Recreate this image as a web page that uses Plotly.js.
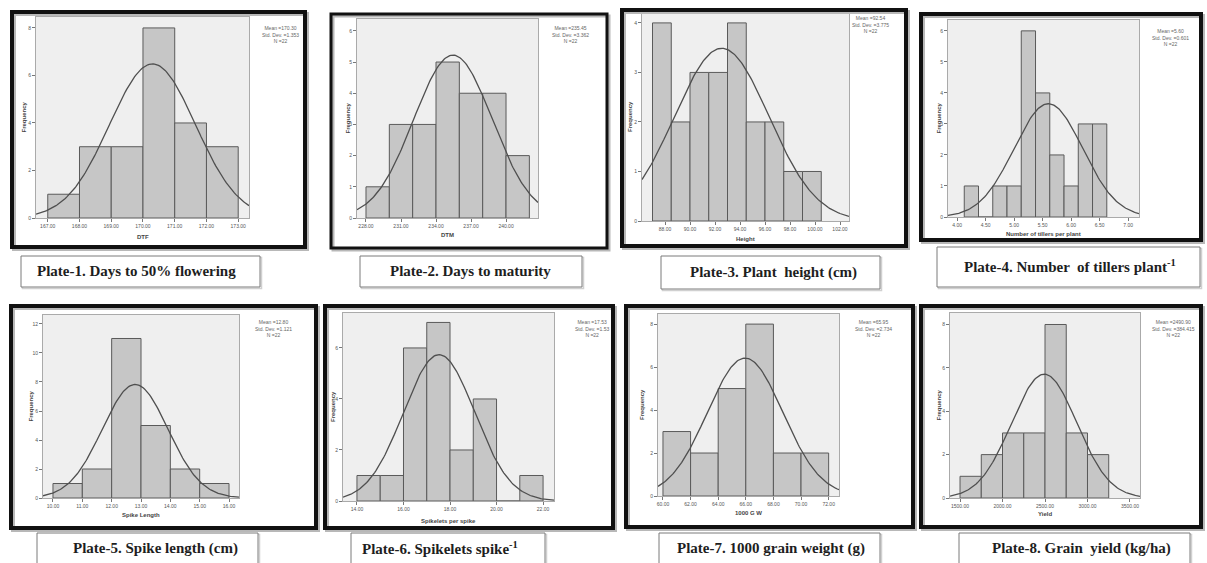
<!DOCTYPE html>
<html><head><meta charset="utf-8">
<script src="https://cdn.plot.ly/plotly-3.0.1.min.js"></script>
<style>html,body{margin:0;padding:0;background:#fff;}#chart{width:1207px;height:563px;}</style>
</head><body><div id="chart"></div>
<script>
// ---------- DATA ----------
const captions = [
  "Plate-1. Days to 50% flowering",
  "Plate-2. Days to maturity",
  "Plate-3. Plant  height (cm)",
  "Plate-4. Number  of tillers plant<sup>-1</sup>",
  "Plate-5. Spike length (cm)",
  "Plate-6. Spikelets spike<sup>-1</sup>",
  "Plate-7. 1000 grain weight (g)",
  "Plate-8. Grain  yield (kg/ha)"
];
const xTitles = ["DTF", "DTM", "Height", "Number of tillers per plant", "Spike Length", "Spikelets per spike", "1000 G W", "Yield"];
const means = [170.30, 235.45, 92.54, 5.60, 12.80, 17.53, 65.95, 2490.90];
const sds = [1.353, 3.362, 3.775, 0.601, 1.121, 1.53, 2.734, 384.415];
const nObs = [22, 22, 22, 22, 22, 22, 22, 22];
const binStarts = [167, 228, 87, 4.125, 10, 14, 60, 1500];
const binWidths = [1, 2, 1.5, 0.25, 1, 1, 2, 250];

const dtfCounts = [1, 3, 3, 8, 4, 3];
const dtmCounts = [1, 3, 3, 5, 4, 4, 2];
const heightCounts = [4, 2, 3, 3, 4, 2, 2, 1, 1];
const tillerCounts = [1, 0, 1, 1, 6, 4, 2, 1, 3, 3];
const spikeLenCounts = [1, 2, 11, 5, 2, 1];
const spikeletCounts = [1, 1, 6, 7, 2, 4, 0, 1];
const grainWtCounts = [3, 2, 5, 8, 2, 2];
const yieldCounts = [1, 2, 3, 3, 8, 3, 2];
const allCounts = [dtfCounts, dtmCounts, heightCounts, tillerCounts, spikeLenCounts, spikeletCounts, grainWtCounts, yieldCounts];

const dtfTicks = [167, 168, 169, 170, 171, 172, 173];
const dtmTicks = [228, 231, 234, 237, 240];
const heightTicks = [88, 90, 92, 94, 96, 98, 100, 102];
const tillerTicks = [4, 4.5, 5, 5.5, 6, 6.5, 7];
const spikeLenTicks = [10, 11, 12, 13, 14, 15, 16];
const spikeletTicks = [14, 16, 18, 20, 22];
const grainWtTicks = [60, 62, 64, 66, 68, 70, 72];
const yieldTicks = [1500, 2000, 2500, 3000, 3500];
const allXTicks = [dtfTicks, dtmTicks, heightTicks, tillerTicks, spikeLenTicks, spikeletTicks, grainWtTicks, yieldTicks];
const yDticks = [2, 1, 1, 1, 2, 2, 2, 2];

// ---------- LAYOUT (pixel geometry) ----------
const W = 1207, H = 563;
const geo = [
  {plot:[36,249,17,218], xr:[166.63,173.34], yt:8.46, frame:[12,12,305,247], lw:4, cap:[21,256,260,287], ct:[136,271,'center'], st:[280,34], ytx:23, xty:237},
  {plot:[357,538,19,218], xr:[227.23,242.74], yt:6.38, frame:[331,14,607,248], lw:3, cap:[360,256,582,287], ct:[470,271,'center'], st:[570,35], ytx:347, xty:235},
  {plot:[642,849,13,221], xr:[86.16,102.72], yt:4.2, frame:[622,10,906,246], lw:4, cap:[661,256,880,289], ct:[773,272,'center'], st:[870,24], ytx:630, xty:239},
  {plot:[948,1139,20,217], xr:[3.84,7.19], yt:6.35, frame:[921,14,1201,240], lw:4, cap:[937,247,1200,287], ct:[1070,266,'center'], st:[1170,37], ytx:938, xty:234},
  {plot:[43,239,315,498], xr:[9.66,16.34], yt:12.62, frame:[11,306,316,528], lw:4, cap:[37,533,258,568], ct:[155,548,'center'], st:[273,328], ytx:30, xty:515},
  {plot:[343,554,313,501], xr:[13.4,22.47], yt:7.37, frame:[325,306,613,528], lw:4, cap:[351,533,545,568], ct:[360,548,'left'], st:[592,328], ytx:333, xty:521},
  {plot:[658,839,314,496], xr:[59.64,72.75], yt:8.47, frame:[626,306,913,527], lw:4, cap:[659,533,880,568], ct:[771,548,'center'], st:[873,328], ytx:642, xty:513},
  {plot:[950,1140,313,498], xr:[1382,3618], yt:8.53, frame:[921,306,1201,527], lw:4, cap:[959,533,1190,568], ct:[1081,548,'center'], st:[1173,328], ytx:938, xty:514}
];
const px = v => v / W;
const py = v => 1 - v / H;
const SERIF = "'Liberation Serif', 'Times New Roman', 'DejaVu Serif', serif";

const traces = [], shapes = [], annotations = [];
const layout = {
  width: W, height: H, margin: {l:0, r:0, t:0, b:0},
  paper_bgcolor: '#ffffff', plot_bgcolor: '#efefef',
  showlegend: false, shapes: shapes, annotations: annotations,
  font: {family: "'Liberation Sans', Arial, sans-serif", color: '#444'}
};

geo.forEach((g, i) => {
  const k = i === 0 ? '' : String(i + 1);
  const xa = 'x' + k, ya = 'y' + k;
  const counts = allCounts[i];
  const w = binWidths[i];
  const centers = counts.map((c, j) => binStarts[i] + w * (j + 0.5));
  traces.push({
    type: 'bar', x: centers, y: counts, width: w, xaxis: xa, yaxis: ya,
    marker: {color: '#c6c6c6', line: {color: '#5a5a5a', width: 1}},
    hoverinfo: 'x+y'
  });
  // fitted normal curve from the stated mean / std. dev.
  const cx = [], cy = [];
  const steps = 160;
  for (let s = 0; s <= steps; s++) {
    const x = g.xr[0] + (g.xr[1] - g.xr[0]) * s / steps;
    const z = (x - means[i]) / sds[i];
    cx.push(x);
    cy.push(nObs[i] * w * Math.exp(-0.5 * z * z) / (sds[i] * Math.sqrt(2 * Math.PI)));
  }
  traces.push({type: 'scatter', mode: 'lines', x: cx, y: cy, xaxis: xa, yaxis: ya,
    line: {color: '#4f4f4f', width: 1.3}, hoverinfo: 'skip'});

  const ticks = allXTicks[i];
  layout['xaxis' + k] = {
    domain: [px(g.plot[0]), px(g.plot[1])], anchor: ya, range: g.xr,
    tickmode: 'array', tickvals: ticks, ticktext: ticks.map(t => t.toFixed(2)),
    ticks: 'outside', ticklen: 3, tickcolor: '#777', tickwidth: 1,
    tickfont: {size: 5, color: '#555'},
    showgrid: false, zeroline: false, showline: true, mirror: true,
    linecolor: '#aaaaaa', linewidth: 1, fixedrange: true
  };
  layout['yaxis' + k] = {
    domain: [py(g.plot[3]), py(g.plot[2])], anchor: xa, range: [0, g.yt],
    dtick: yDticks[i], tick0: 0,
    ticks: 'outside', ticklen: 3, tickcolor: '#777', tickwidth: 1,
    tickfont: {size: 5, color: '#555'},
    showgrid: false, zeroline: false, showline: true, mirror: true,
    linecolor: '#aaaaaa', linewidth: 1, fixedrange: true
  };

  // outer thick frame (with faint shadow)
  const f = g.frame;
  shapes.push({type: 'rect', xref: 'paper', yref: 'paper',
    x0: px(f[0] + 2), x1: px(f[2] + 2), y0: py(f[3] + 2), y1: py(f[1] + 2),
    line: {color: '#b8b8b8', width: g.lw}, fillcolor: 'rgba(0,0,0,0)'});
  shapes.push({type: 'rect', xref: 'paper', yref: 'paper',
    x0: px(f[0]), x1: px(f[2]), y0: py(f[3]), y1: py(f[1]),
    line: {color: '#111111', width: g.lw}, fillcolor: 'rgba(0,0,0,0)'});

  // caption box
  const c = g.cap;
  shapes.push({type: 'rect', xref: 'paper', yref: 'paper',
    x0: px(c[0] + 1.5), x1: px(c[2] + 1.5), y0: py(c[3] + 1.5), y1: py(c[1] + 1.5),
    line: {color: '#d0d0d0', width: 1.5}, fillcolor: 'rgba(0,0,0,0)'});
  shapes.push({type: 'rect', xref: 'paper', yref: 'paper',
    x0: px(c[0]), x1: px(c[2]), y0: py(c[3]), y1: py(c[1]),
    line: {color: '#7a7a7a', width: 1}, fillcolor: '#ffffff'});
  annotations.push({xref: 'paper', yref: 'paper', x: px(g.ct[0]), y: py(g.ct[1]),
    xanchor: g.ct[2], yanchor: 'middle', showarrow: false, text: '<b>' + captions[i] + '</b>',
    font: {family: SERIF, size: 15, color: '#1e1e1e'}});

  // axis titles
  annotations.push({xref: 'paper', yref: 'paper', x: px((g.plot[0] + g.plot[1]) / 2), y: py(g.xty),
    xanchor: 'center', yanchor: 'middle', showarrow: false, text: '<b>' + xTitles[i] + '</b>',
    font: {size: 6, color: '#444'}});
  annotations.push({xref: 'paper', yref: 'paper', x: px(g.ytx), y: py((g.plot[2] + g.plot[3]) / 2),
    xanchor: 'center', yanchor: 'middle', showarrow: false, textangle: -90, text: '<b>Frequency</b>',
    font: {size: 6, color: '#444'}});

  // statistics legend
  const meanTxt = 'Mean =' + means[i].toFixed(2);
  const sdTxt = 'Std. Dev. =' + String(sds[i]);
  annotations.push({xref: 'paper', yref: 'paper', x: px(g.st[0]), y: py(g.st[1]),
    xanchor: 'center', yanchor: 'middle', showarrow: false, align: 'center',
    text: meanTxt + '<br>' + sdTxt + '<br>N =' + nObs[i],
    font: {size: 5, color: '#666'}});
});

Plotly.newPlot('chart', traces, layout, {displayModeBar: false, staticPlot: true});
</script></body></html>
